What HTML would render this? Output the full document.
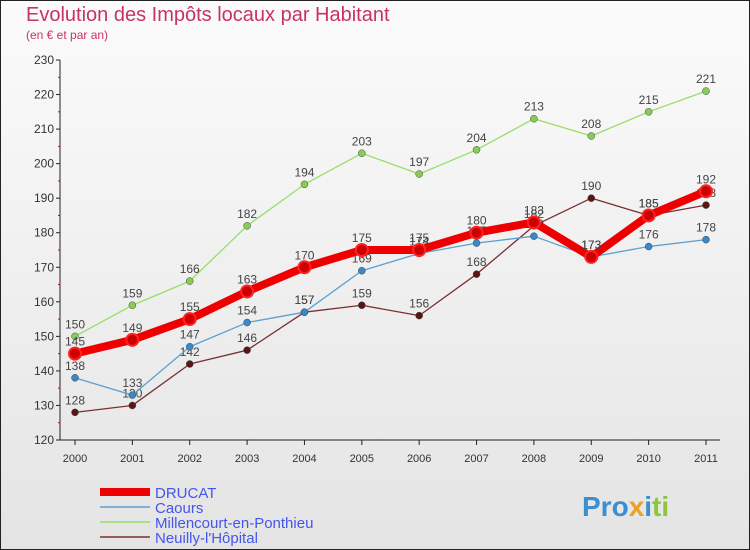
<!DOCTYPE html>
<html><head><meta charset="utf-8"><style>
body{margin:0;}
#c{width:750px;height:550px;position:relative;overflow:hidden;font-family:"Liberation Sans",sans-serif;}
</style></head><body>
<div id="c">
<svg id="s" width="750" height="550" xmlns="http://www.w3.org/2000/svg">
<defs><linearGradient id="bg" x1="0" y1="0" x2="0" y2="1"><stop offset="0" stop-color="#fbfbfb"/><stop offset="1" stop-color="#e4e4e4"/></linearGradient></defs>
<rect x="0.5" y="0.5" width="749" height="549" fill="url(#bg)" stroke="#222"/>
<text x="26" y="21" font-size="20" fill="#c8326a">Evolution des Impôts locaux par Habitant</text>
<text x="26" y="39" font-size="12" fill="#c8326a">(en € et par an)</text>
<g id="axes"></g><g id="series"></g><g id="legend"></g>
<text x="582" y="516" font-size="28" font-weight="bold" fill="#3a8fd0">Pro<tspan fill="#f0a020">x</tspan>i<tspan fill="#8cc63f">ti</tspan></text>
</svg></div>
<script>
const years=[2000,2001,2002,2003,2004,2005,2006,2007,2008,2009,2010,2011];
const yTicks=[120,130,140,150,160,170,180,190,200,210,220,230];
const drucat=[145,149,155,163,170,175,175,180,183,173,185,192];
const caours=[138,133,147,154,157,169,174,177,179,173,176,178];
const millencourt=[150,159,166,182,194,203,197,204,213,208,215,221];
const neuilly=[128,130,142,146,157,159,156,168,182,190,185,188];
const seriesNames=["DRUCAT","Caours","Millencourt-en-Ponthieu","Neuilly-l'Hôpital"];
const NS="http://www.w3.org/2000/svg";
const x=i=>75+i*(706-75)/11;
const y=v=>440-(v-120)*380/110;
function mk(t,a,p){const e=document.createElementNS(NS,t);for(const k in a)e.setAttribute(k,a[k]);p.appendChild(e);return e;}
const ax=document.getElementById('axes');
let yl=mk('line',{x1:60,y1:60,x2:60,y2:440,stroke:'#222'},ax);


let xl=mk('line',{x1:60,y1:440,x2:720,y2:440,stroke:'#222'},ax);


yTicks.forEach(v=>{mk('line',{x1:56,y1:y(v),x2:60,y2:y(v),stroke:'#222'},ax);
 if(v<230)mk('line',{x1:58,y1:y(v+5),x2:60,y2:y(v+5),stroke:'#d00'},ax);
 const t=mk('text',{x:54,y:y(v)+4,'font-size':12,fill:'#333','text-anchor':'end'},ax);t.textContent=v;
 
 });
years.forEach((yr,i)=>{mk('line',{x1:x(i),y1:440,x2:x(i),y2:445,stroke:'#222'},ax);
 const t=mk('text',{x:x(i),y:462,'font-size':11,fill:'#333','text-anchor':'middle'},ax);t.textContent=yr;
 
 });
const sg=document.getElementById('series');
const defs=[[millencourt,'#99dd66','#88cc55',1.3,3.5,'millencourt'],[neuilly,'#7a3030','#5a1515',1.3,3.5,'neuilly'],[caours,'#5ba0d0','#3a88c8',1.3,3.5,'caours'],[drucat,'#ee0000','#ee0000',8,6,'drucat']];
defs.forEach(([d,c,fc,w,r,n])=>{
 const g=mk('g',{},sg);
 
 
 mk('polyline',{points:d.map((v,i)=>x(i)+','+y(v)).join(' '),fill:'none',stroke:c,'stroke-width':w,'stroke-linejoin':'round'},g);
 d.forEach((v,i)=>{const p=mk('circle',{cx:x(i),cy:y(v),r:r,fill:n==='drucat'?'#cc0000':fc,stroke:n==='drucat'?'#ff2222':'#444','stroke-width':n==='drucat'?2:0.5},g);
  
  
  const t=mk('text',{x:x(i),y:y(v)-8,'font-size':12,fill:'#444','text-anchor':'middle'},g);t.textContent=v;
  
  });
});
const lg=document.getElementById('legend');
const lc=['#ee0000','#5ba0d0','#99dd66','#7a3030'],lw=[8,1.5,1.5,1.5];
seriesNames.forEach((n,i)=>{const g=mk('g',{},lg);
 
 
 const yy=492+i*15;
 mk('line',{x1:100,y1:yy,x2:150,y2:yy,stroke:lc[i],'stroke-width':lw[i]},g);
 const t=mk('text',{x:155,y:yy+6,'font-size':15,fill:'#4455ee'},g);t.textContent=n;});
</script>
</body></html>
